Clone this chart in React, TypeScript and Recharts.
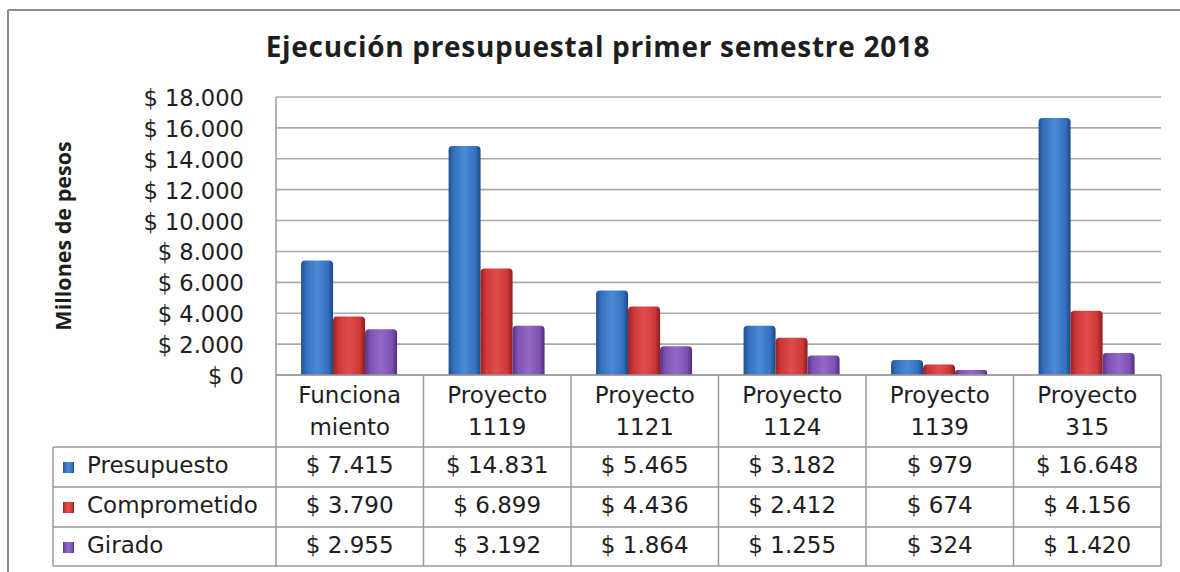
import React from "react";
import { BarChart, Bar, XAxis, YAxis, CartesianGrid, Legend } from "recharts";

const TITLE = "Ejecución presupuestal primer semestre 2018";
const Y_TITLE = "Millones de pesos";
const CATEGORIES = ["Funciona\nmiento", "Proyecto\n1119", "Proyecto\n1121", "Proyecto\n1124", "Proyecto\n1139", "Proyecto\n315"];
const PRESUPUESTO = [7415, 14831, 5465, 3182, 979, 16648];
const COMPROMETIDO = [3790, 6899, 4436, 2412, 674, 4156];
const GIRADO = [2955, 3192, 1864, 1255, 324, 1420];
const Y_TICKS = [0, 2000, 4000, 6000, 8000, 10000, 12000, 14000, 16000, 18000];

const SERIES = [
  { key: "presupuesto", name: "Presupuesto", values: PRESUPUESTO, grad: "gBlue", stops: ["#22508c", "#3470bf", "#4a8ad6", "#3470bf", "#1d4780"] },
  { key: "comprometido", name: "Comprometido", values: COMPROMETIDO, grad: "gRed", stops: ["#962020", "#cc3737", "#e24c4c", "#cc3737", "#8c1c1c"] },
  { key: "girado", name: "Girado", values: GIRADO, grad: "gPurple", stops: ["#573284", "#7c52b2", "#9468c8", "#7c52b2", "#4f2e7a"] },
];

const data = CATEGORIES.map((c, i) => ({
  category: c,
  presupuesto: PRESUPUESTO[i],
  comprometido: COMPROMETIDO[i],
  girado: GIRADO[i],
}));

const W = 1180;
const H = 572;
const MARGIN = { top: 97, right: 19, left: 20, bottom: 6 };
const Y_AXIS_W = 256;
const X_AXIS_H = 191;
const PLOT_W = W - MARGIN.left - MARGIN.right - Y_AXIS_W;
const BAND = PLOT_W / CATEGORIES.length;
const LINE = "#9a9a9a";
const TEXT = "#1e1e1e";
const FONT = "'DejaVu Sans', sans-serif";
const BOLD_FONT = "'Open Sans', sans-serif";
const TABLE_FS = 23;

const fmt = (n: number) => "$ " + String(n).replace(/\B(?=(\d{3})+(?!\d))/g, ".");

const YTick = (props: any) => {
  const { x, y, payload } = props;
  return (
    <text x={x} y={y} dy={9} textAnchor="end" fontFamily={FONT} fontSize={22.6} fill={TEXT}>
      {fmt(payload.value)}
    </text>
  );
};

const XTick = (props: any) => {
  const { x, y, payload, index } = props;
  const lines = String(payload.value).split("\n");
  const l = x - BAND / 2;
  const r = x + BAND / 2;
  const rows = [72, 112, 152, 191];
  const isLast = index === CATEGORIES.length - 1;
  return (
    <g>
      <line x1={l} y1={y} x2={l} y2={y + 191} stroke={LINE} strokeWidth={1.5} />
      {isLast && <line x1={r} y1={y} x2={r} y2={y + 191} stroke={LINE} strokeWidth={1.5} />}
      {rows.map((ry) => (
        <line key={ry} x1={l} y1={y + ry} x2={r} y2={y + ry} stroke={LINE} strokeWidth={1.5} />
      ))}
      {lines.map((t, i) => (
        <text key={i} x={x} y={y + 28 + i * 32} textAnchor="middle" fontFamily={FONT} fontSize={TABLE_FS} fill={TEXT}>
          {t}
        </text>
      ))}
      {SERIES.map((s, i) => (
        <text key={s.key} x={x} y={y + 98 + i * 40} textAnchor="middle" fontFamily={FONT} fontSize={TABLE_FS} fill={TEXT}>
          {fmt(s.values[index])}
        </text>
      ))}
    </g>
  );
};

const LegendTable = () => (
  <svg width={224} height={121} style={{ display: "block", overflow: "visible" }}>
    <line x1={0} y1={0} x2={0} y2={119} stroke={LINE} strokeWidth={1.5} />
    {[0, 40, 80, 119].map((ry) => (
      <line key={ry} x1={0} y1={ry} x2={224} y2={ry} stroke={LINE} strokeWidth={1.5} />
    ))}
    {SERIES.map((s, i) => (
      <g key={s.key}>
        <rect x={10} y={15 + i * 40} width={11} height={11} fill={`url(#${s.grad})`} />
        <text x={34} y={26 + i * 40} fontFamily={FONT} fontSize={TABLE_FS} fill={TEXT}>
          {s.name}
        </text>
      </g>
    ))}
  </svg>
);

export default function App() {
  return (
    <div style={{ position: "absolute", left: 0, top: 0, width: W, height: H, overflow: "hidden", background: "#fff" }}>
      <BarChart width={W} height={H} data={data} margin={MARGIN} barCategoryGap="17%" barGap={0}>
        <defs>
          {SERIES.map((s) => (
            <linearGradient key={s.grad} id={s.grad} x1="0" y1="0" x2="1" y2="0">
              <stop offset="0%" stopColor={s.stops[0]} />
              <stop offset="16%" stopColor={s.stops[1]} />
              <stop offset="50%" stopColor={s.stops[2]} />
              <stop offset="84%" stopColor={s.stops[3]} />
              <stop offset="100%" stopColor={s.stops[4]} />
            </linearGradient>
          ))}
        </defs>
        <CartesianGrid vertical={false} stroke="#ababab" strokeWidth={1.6} />
        <XAxis
          dataKey="category"
          interval={0}
          height={X_AXIS_H}
          tickLine={false}
          tickSize={0}
          tickMargin={0}
          axisLine={{ stroke: LINE, strokeWidth: 1.5 }}
          tick={<XTick />}
        />
        <YAxis
          width={Y_AXIS_W}
          domain={[0, 18000]}
          ticks={Y_TICKS}
          interval={0}
          tickLine={false}
          tickSize={0}
          tickMargin={32}
          axisLine={{ stroke: LINE, strokeWidth: 1.5 }}
          tick={<YTick />}
          label={{
            content: (p: any) => {
              const vb = p.viewBox || {};
              const cx = (vb.x ?? 20) + 42;
              const cy = (vb.y ?? 97) + (vb.height ?? 278) / 2;
              return (
                <text
                  x={cx}
                  y={cy}
                  transform={`rotate(-90 ${cx} ${cy})`}
                  textAnchor="middle"
                  dominantBaseline="central"
                  fontFamily={BOLD_FONT}
                  fontWeight={700}
                  fontSize={21.5}
                  fill={TEXT}
                >
                  {Y_TITLE}
                </text>
              );
            },
          }}
        />
        <Legend
          layout="horizontal"
          align="center"
          verticalAlign="middle"
          wrapperStyle={{ position: "absolute", left: 53, top: 447, width: 224, height: 121 }}
          content={() => <LegendTable />}
        />
        {SERIES.map((s) => (
          <Bar key={s.key} dataKey={s.key} name={s.name} fill={`url(#${s.grad})`} radius={[4, 4, 0, 0]} isAnimationActive={false} />
        ))}
      </BarChart>
      <svg width={W} height={H} style={{ position: "absolute", left: 0, top: 0, pointerEvents: "none" }}>
        <line x1={8} y1={10} x2={W} y2={10} stroke="#8c8c8c" strokeWidth={2} />
        <line x1={8} y1={10} x2={8} y2={H} stroke="#8c8c8c" strokeWidth={2} />
        <text x={598} y={57} textAnchor="middle" fontFamily={BOLD_FONT} fontWeight={700} fontSize={28} letterSpacing={0.7} fill={TEXT}>
          {TITLE}
        </text>
      </svg>
    </div>
  );
}
